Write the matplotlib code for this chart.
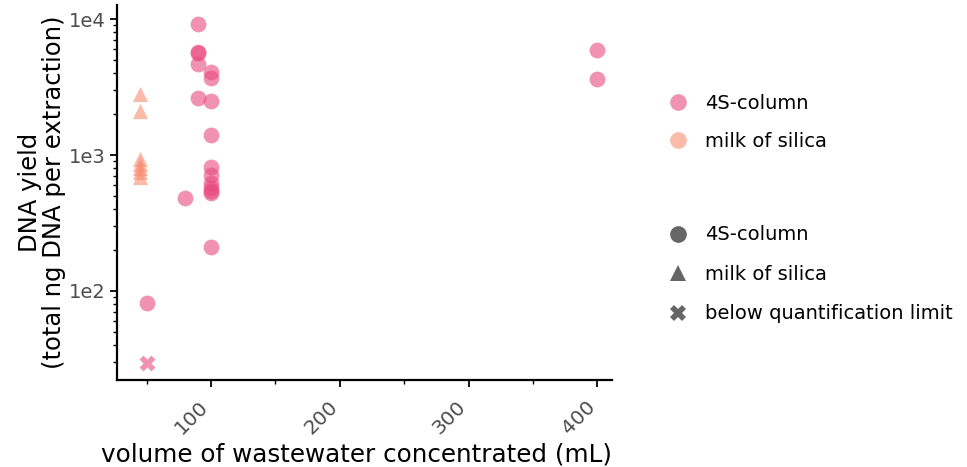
import matplotlib
matplotlib.use("Agg")
import matplotlib.pyplot as plt
import matplotlib.transforms as mtransforms
from matplotlib.lines import Line2D
from matplotlib.ticker import LogLocator, FixedLocator

# volume concentrated (mL), DNA yield (ng), method, below limit?
volume = [400, 400,
          90, 90, 90, 90, 90,
          100, 100, 100, 100, 100, 100, 100, 100, 100, 100, 100,
          80, 50, 50,
          45, 45, 45, 45, 45, 45, 45]
dna_yield = [5900, 3620,
             9190, 5750, 5600, 4720, 2610,
             4070, 3680, 2500, 1400, 820, 710, 620, 570, 540, 525, 211,
             483, 82, 29.5,
             2810, 2110, 930, 860, 800, 750, 690]
method = ["4S-column"] * 21 + ["milk of silica"] * 7
below_limit = [False] * 20 + [True] + [False] * 7

methods = ["4S-column", "milk of silica"]
method_colors = {"4S-column": "#E84A7F", "milk of silica": "#FA8C6E"}
method_markers = {"4S-column": "o", "milk of silica": "^"}

fig = plt.figure(figsize=(9.67, 4.67), dpi=100)
ax = fig.add_axes([0.121, 0.186, 0.512, 0.803])

for m in methods:
    for bl in (False, True):
        xs = [v for v, mm, b in zip(volume, method, below_limit) if mm == m and b == bl]
        ys = [y for y, mm, b in zip(dna_yield, method, below_limit) if mm == m and b == bl]
        if not xs:
            continue
        mk = "X" if bl else method_markers[m]
        ax.scatter(xs, ys, s=130 if mk != "^" else 120, marker=mk,
                   color=method_colors[m], alpha=0.6, linewidths=0)

ax.set_yscale("log")
ax.set_xlim(27, 411.5)
ax.set_ylim(22, 12700)
ax.yaxis.set_major_locator(FixedLocator([100, 1000, 10000]))
ax.set_yticklabels(["1e2", "1e3", "1e4"])
ax.yaxis.set_minor_locator(LogLocator(base=10, subs=range(2, 10)))
ax.yaxis.set_minor_formatter(plt.NullFormatter())
ax.set_xticks([100, 200, 300, 400])
ax.set_xticks([50, 150, 250, 350], minor=True)

for side in ("top", "right"):
    ax.spines[side].set_visible(False)
for side in ("left", "bottom"):
    ax.spines[side].set_linewidth(1.6)
ax.tick_params(which="major", length=5, width=1.3, labelsize=14,
               labelcolor="#4D4D4D", pad=3)
ax.tick_params(axis="x", which="major", pad=5, labelsize=14.5)
ax.tick_params(which="minor", length=3, width=1.0)

# rotated x labels, moved left/down so they hang below-left of the tick
shift = mtransforms.ScaledTranslation(-12 / 100, -3 / 100, fig.dpi_scale_trans)
for lab in ax.get_xticklabels():
    lab.set_rotation(45)
    lab.set_ha("right")
    lab.set_rotation_mode("anchor")
    lab.set_transform(lab.get_transform() + shift)

ax.set_xlabel("volume of wastewater concentrated (mL)", fontsize=17.7)
ax.xaxis.set_label_coords(0.483, -0.165)
ax.set_ylabel("DNA yield\n(total ng DNA per extraction)", fontsize=17.5,
              linespacing=1.0, labelpad=2)

# colour legend
color_handles = [Line2D([], [], marker="o", linestyle="", markersize=12,
                        markeredgewidth=0, color=method_colors[m], alpha=0.6)
                 for m in methods]
fig.legend(color_handles, methods, loc="upper left",
           bbox_to_anchor=(0.671, 0.82), frameon=False,
           fontsize=14, labelspacing=1.0, handletextpad=0.4,
           borderpad=0)

# shape legend
shape_labels = ["4S-column", "milk of silica", "below quantification limit"]
shape_markers = ["o", "^", "X"]
shape_handles = [Line2D([], [], marker=mk, linestyle="", markersize=12,
                        markeredgewidth=0, color="#666666")
                 for mk in shape_markers]
fig.legend(shape_handles, shape_labels, loc="upper left",
           bbox_to_anchor=(0.671, 0.538), frameon=False,
           fontsize=14, labelspacing=1.05, handletextpad=0.4, borderpad=0)

fig.savefig("out.png", dpi=100)
